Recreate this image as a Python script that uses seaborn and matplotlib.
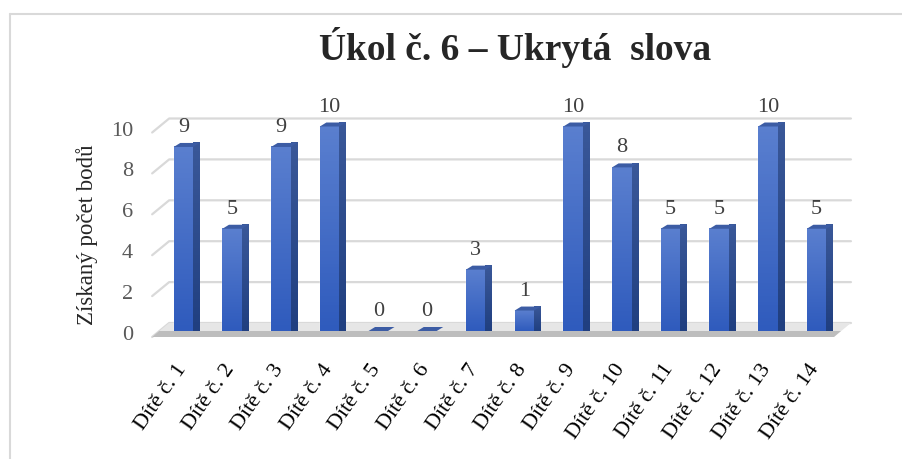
import matplotlib
matplotlib.use("Agg")
import matplotlib.pyplot as plt
import seaborn as sns
import pandas as pd
import numpy as np
from matplotlib.patches import Polygon
from matplotlib.lines import Line2D
from matplotlib.colors import LinearSegmentedColormap

# data
deti = ["Dítě č. %d" % i for i in range(1, 15)]
body = [9, 5, 9, 10, 0, 0, 3, 1, 10, 8, 5, 5, 10, 5]
osa_y = [0, 2, 4, 6, 8, 10]

df = pd.DataFrame({"dite": deti, "body": body})

sns.set_style("white")
plt.rcParams["font.family"] = ["Liberation Serif", "DejaVu Serif"]

W, H = 902, 459
fig = plt.figure(figsize=(W / 100, H / 100), dpi=100)
ax = fig.add_axes([159.15 / W, 128 / H, 681.8 / W, 204.5 / H])

sns.barplot(data=df, x="dite", y="body", color="#4472c4", width=0.4,
            saturation=1, ax=ax, zorder=3)
ax.set_xlim(-0.5, 13.5)
ax.set_ylim(0, 10)

ux = 681.8 / 14      # px per category
uy = 204.5 / 10      # px per point
fx, fy = -7 / ux, -6 / uy     # front edge of floor
bx, by = 10 / ux, 8 / uy      # back wall
sx, sy = 6.5 / ux, 4 / uy     # bar depth

x0, x1 = -0.5, 13.5

# back wall grid
for v in osa_y:
    ax.plot([x0 + fx, x0 + bx, x1 + bx], [v + fy, v + by, v + by],
            color="#d9d9d9", lw=1.6, clip_on=False, zorder=0.5)
    ax.text(x0 - 26 / ux, v + fy + 1.5 / uy, str(v), ha="right", va="center",
            fontsize=16, color="#595959")

# floor
ax.add_patch(Polygon([(x0 + fx, fy), (x1 + fx, fy), (x1 + bx, by), (x0 + bx, by)],
                     closed=True, fc="#e6e6e6", ec="none", clip_on=False, zorder=1))
ax.add_patch(Polygon([(x0 + fx, fy), (x1 + fx, fy), (x1, 0), (x0, 0)],
                     closed=True, fc="#bdbdbd", ec="none", clip_on=False, zorder=1.1))

front = LinearSegmentedColormap.from_list("f", ["#2f5bbd", "#5a7fcf"])
side = LinearSegmentedColormap.from_list("s", ["#203f80", "#3a5899"])
grad = np.linspace(0, 1, 64).reshape(-1, 1)

for p, h in zip(ax.patches[:len(body)], body):
    x = p.get_x()
    w = p.get_width()
    if h > 0:
        ax.imshow(grad, extent=[x, x + w, 0, h], origin="lower", aspect="auto",
                  cmap=front, zorder=3.1, clip_on=False)
        sp = Polygon([(x + w, 0), (x + w + sx, sy), (x + w + sx, h + sy), (x + w, h)],
                     closed=True, fc="none", ec="none", clip_on=False)
        ax.add_patch(sp)
        im = ax.imshow(grad, extent=[x + w, x + w + sx, 0, h + sy], origin="lower",
                       aspect="auto", cmap=side, zorder=3.2, clip_on=False)
        im.set_clip_path(sp)
    ax.add_patch(Polygon([(x, h), (x + w, h), (x + w + sx, h + sy), (x + sx, h + sy)],
                         closed=True, fc="#3c5ca4", ec="none", clip_on=False, zorder=3.3))
    ax.text(x + w / 2, h + 15 / uy, str(h), ha="center", va="baseline",
            fontsize=16, color="#404040")

for i, lab in enumerate(deti):
    ax.text(i - 1 / ux, -35 / uy, lab, rotation=55, rotation_mode="anchor",
            ha="right", va="center", fontsize=16, color="black")

ax.set_xlim(-0.5, 13.5)
ax.set_ylim(0, 10)
ax.axis("off")

fig.text(87 / W, 1 - 235 / H, "Získaný počet bodů", rotation=90, ha="center",
         va="center", fontsize=16.5)
fig.text(515 / W, 1 - 60 / H, "Úkol č. 6 – Ukrytá  slova", ha="center",
         va="baseline", fontsize=27, fontweight="bold")

# chart frame
fig.add_artist(Line2D([9.5 / W, 9.5 / W], [0, 1 - 14 / H], color="#d9d9d9", lw=1.5))
fig.add_artist(Line2D([9.5 / W, 1], [1 - 14 / H, 1 - 14 / H], color="#d9d9d9", lw=1.5))

fig.savefig("out.png", dpi=100)
